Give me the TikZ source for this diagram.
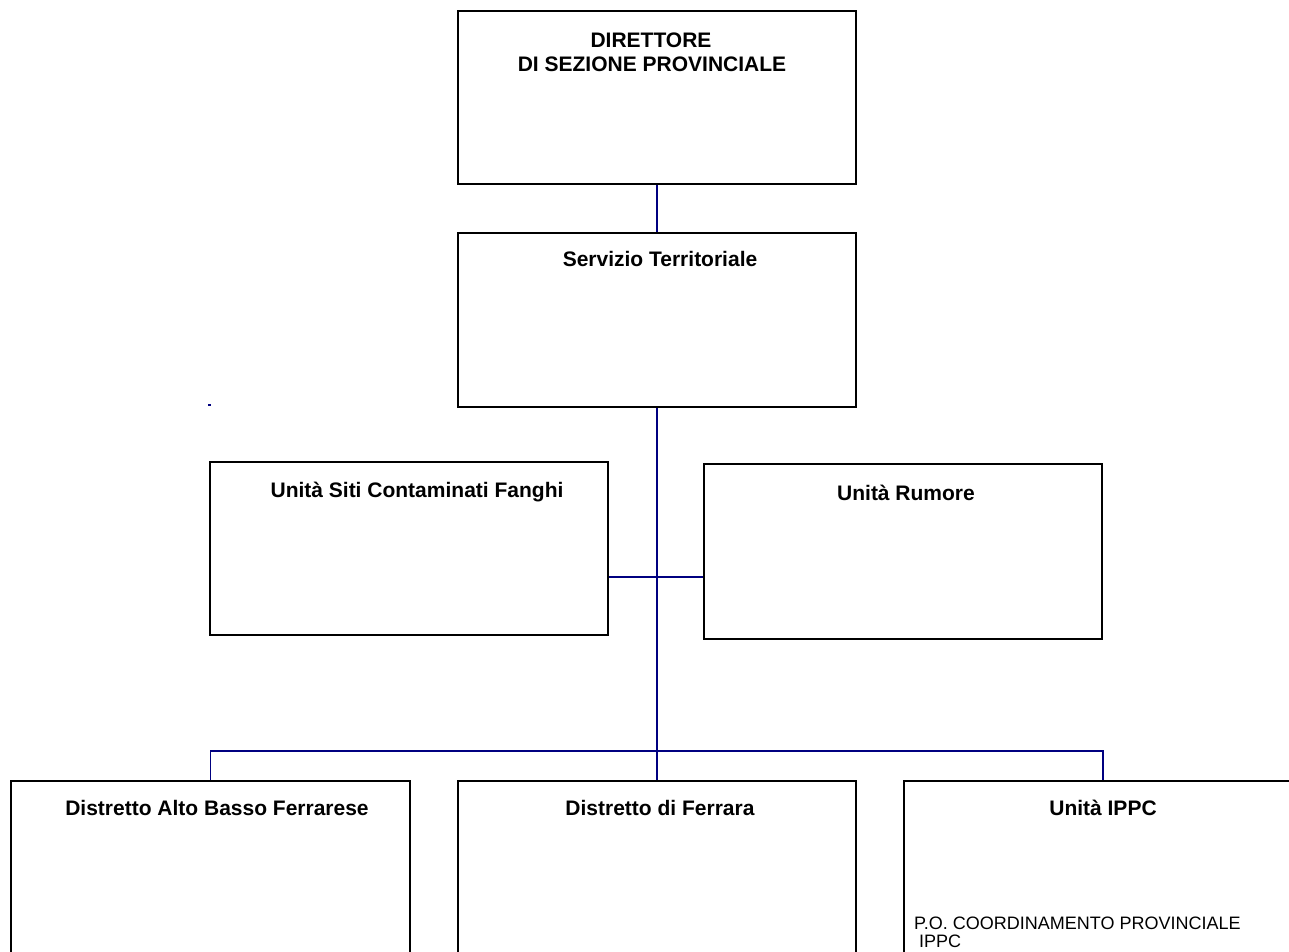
\documentclass[tikz,border=0pt]{standalone}
\usepackage{fontspec}
\setmainfont{Liberation Sans}
\definecolor{connblue}{RGB}{0,0,128}
\begin{document}
\begin{tikzpicture}[x=1pt,y=-1pt,
  box/.style={draw=black, line width=1.9pt, fill=none, inner sep=0pt, anchor=north west, minimum width=398pt},
  conn/.style={draw=connblue, line width=1.9pt},
  title/.style={font=\fontsize{21}{24}\selectfont\bfseries, anchor=base, inner sep=0pt},
  note/.style={font=\fontsize{18}{20}\selectfont, anchor=base west, inner sep=0pt}]
\useasboundingbox (0,0) rectangle (1289,951);
\fill[white] (0,0) rectangle (1289,951);
\clip (0,0) rectangle (1289,951);
% boxes
\node[box, minimum height=173pt] (dir) at (457,10) {};
\node[box, minimum height=174pt] (serv) at (457,232) {};
\node[box, minimum height=173pt] (siti) at (209,461) {};
\node[box, minimum height=175pt] (rum) at (703,463) {};
\node[box, minimum width=399pt, minimum height=180pt] (dab) at (10,780) {};
\node[box, minimum height=180pt] (dfe) at (457,780) {};
\node[box, minimum height=180pt] (ippc) at (903,780) {};
% texts
\node[title] (t1) at (651,47) {DIRETTORE};
\node[title] (t2) at (652,71) {DI SEZIONE PROVINCIALE};
\node[title] (t3) at (660,266) {Servizio Territoriale};
\node[title] (t4) at (417,497) {Unità Siti Contaminati Fanghi};
\node[title] (t5) at (906,500) {Unità Rumore};
\node[title] (t6) at (217,815) {Distretto Alto Basso Ferrarese};
\node[title] (t7) at (660,815) {Distretto di Ferrara};
\node[title] (t8) at (1103,815) {Unità IPPC};
\node[note] (n1) at (914,929) {P.O. COORDINAMENTO PROVINCIALE};
\node[note] (n2) at (919,947) {IPPC};
% connectors
\coordinate (mid) at (656,577);
\coordinate (bus) at (656,751);
\draw[conn] (dir.south) -- (serv.north);
\draw[conn] (serv.south) -- (dfe.north);
\draw[conn] (siti.east |- mid) -- (rum.west |- mid);
\draw[conn] (dab.north) -- (dab.north |- bus) -- (ippc.north |- bus) -- (ippc.north);
% stray mark
\fill[connblue] (208,404) rectangle (211,406);
\end{tikzpicture}
\end{document}
